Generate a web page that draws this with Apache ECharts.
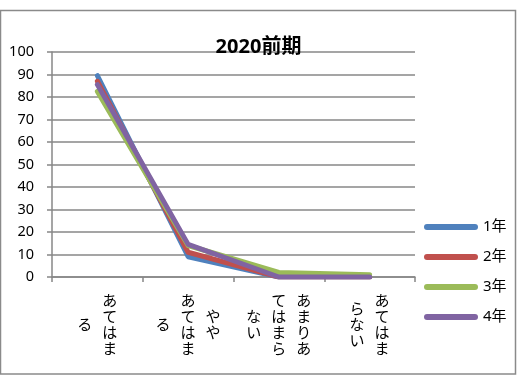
<!DOCTYPE html>
<html>
<head>
<meta charset="utf-8">
<script src="https://cdn.jsdelivr.net/npm/echarts@6/dist/echarts.min.js"></script>
<style>
html,body{margin:0;padding:0;background:#fff;}
#main{width:517px;height:375px;}
</style>
</head>
<body>
<div id="main"></div>
<script>
// ---- data ----
var categories = ['あてはまる', 'ややあてはまる', 'あまりあてはまらない', 'あてはまらない'];
// how each category label is wrapped into vertical columns (first column is rightmost)
var labelColumns = [
  ['あてはま', 'る'],
  ['やや', 'あてはま', 'る'],
  ['あまりあ', 'てはまら', 'ない'],
  ['あてはま', 'らない']
];
var seriesNames = ['1年', '2年', '3年', '4年'];
var values1 = [89.5, 9, 0, 0];
var values2 = [87, 11, 0, 0];
var values3 = [82.5, 14, 2, 1];
var values4 = [85.5, 14.5, 0, 0];
var yTicks = [0, 10, 20, 30, 40, 50, 60, 70, 80, 90, 100];
var titleText = '2020前期';

var colors = ['#4F81BD', '#C0504D', '#9BBB59', '#8064A2'];
var jpFont = "'Noto Sans', 'Noto Sans CJK JP', sans-serif";

function verticalLabel(value) {
  var idx = categories.indexOf(value);
  var cols = labelColumns[idx];
  var maxRows = 0;
  cols.forEach(function (c) { maxRows = Math.max(maxRows, c.length); });
  var nLines = maxRows * 2 - 1;
  var lines = [];
  for (var l = 0; l < nLines; l++) {
    var line = '';
    for (var c = cols.length - 1; c >= 0; c--) {
      var col = cols[c];
      var start = maxRows - col.length;
      var ch = '　';
      var rel = l - start;
      if (rel >= 0 && rel % 2 === 0 && rel / 2 < col.length) ch = col.charAt(rel / 2);
      line += '{c|' + ch + '}';
    }
    lines.push(line);
  }
  return lines.join('\n');
}

var chart = echarts.init(document.getElementById('main'));
var mk = function (i, data) {
  return {
    name: seriesNames[i],
    type: 'line',
    data: data,
    symbol: 'none',
    smooth: false,
    lineStyle: { width: 5, color: colors[i], cap: 'round', join: 'round' },
    itemStyle: { color: colors[i] },
    z: 3 + i
  };
};
chart.setOption({
  animation: false,
  backgroundColor: '#ffffff',
  color: colors,
  title: {
    text: titleText,
    left: 'center',
    top: 32,
    textStyle: { fontFamily: jpFont, fontSize: 20, fontWeight: 'bold', color: '#000' }
  },
  graphic: [{
    type: 'rect',
    shape: { x: 0.5, y: 10.5, width: 515, height: 363.5 },
    style: { fill: 'none', stroke: '#8a8a8a', lineWidth: 1.5 },
    silent: true,
    z: -10
  }],
  legend: {
    orient: 'vertical',
    left: 424,
    top: 218,
    padding: 0,
    itemWidth: 54,
    itemHeight: 6,
    itemGap: 12,
    icon: 'path://M3,0 L51,0 A3,3 0 0 1 51,6 L3,6 A3,3 0 0 1 3,0 Z',
    textStyle: { fontFamily: jpFont, fontSize: 15, color: '#000', lineHeight: 18 },
    data: seriesNames
  },
  grid: { left: 52, right: 102, top: 52, bottom: 98, containLabel: false },
  xAxis: {
    type: 'category',
    data: categories,
    boundaryGap: true,
    axisLine: { show: true, lineStyle: { color: '#878787', width: 1.5 } },
    axisTick: { show: true, length: 5, alignWithLabel: false, lineStyle: { color: '#878787', width: 1.5 } },
    axisLabel: {
      interval: 0,
      margin: 19,
      formatter: verticalLabel,
      rich: {
        c: { width: 25, align: 'center', fontSize: 15, lineHeight: 8, fontFamily: "'Noto Sans CJK JP', sans-serif", color: '#000' }
      }
    }
  },
  yAxis: {
    type: 'value',
    min: yTicks[0],
    max: yTicks[yTicks.length - 1],
    interval: yTicks[1] - yTicks[0],
    axisLine: { show: true, lineStyle: { color: '#878787', width: 1.5 } },
    axisTick: { show: true, length: 5, lineStyle: { color: '#878787', width: 1.5 } },
    splitLine: { show: true, lineStyle: { color: '#878787', width: 1.5 } },
    axisLabel: { margin: 18, fontSize: 14.5, fontFamily: jpFont, color: '#000' }
  },
  series: [mk(0, values1), mk(1, values2), mk(2, values3), mk(3, values4)]
});
</script>
</body>
</html>
